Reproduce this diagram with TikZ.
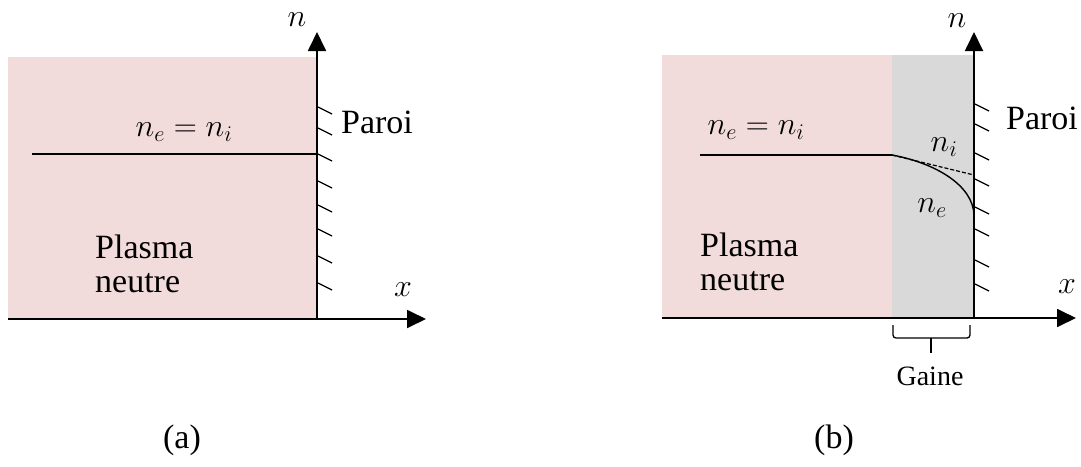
\documentclass[tikz,border=0pt]{standalone}
\usepackage{fix-cm}
\usepackage{fontspec}
\setmainfont{Liberation Serif}
\usetikzlibrary{arrows.meta}
\definecolor{plasma}{HTML}{F2DCDB}
\definecolor{gaine}{HTML}{D9D9D9}
\tikzset{
  axis/.style={line width=1.8pt,-{Triangle[length=19pt,width=18pt]}},
  hatch/.style={line width=1.2pt},
  level/.style={line width=1.5pt},
  lbl/.style={inner sep=0pt,font=\fontsize{34}{40}\selectfont},
  mth/.style={inner sep=0pt,font=\fontsize{32}{38}\selectfont},
  small/.style={inner sep=0pt,font=\fontsize{28}{34}\selectfont},
}
\begin{document}
\begin{tikzpicture}[x=1pt,y=-1pt]
\useasboundingbox (0,0) rectangle (1081,466);
% ---------- panel (a) ----------
\fill[plasma] (8,57) rectangle (317,319);
\coordinate (a0) at (317,319);
\coordinate (ax) at (426,319);
\coordinate (an) at (317,32);
\coordinate (aleft) at (8,319);
\draw[line width=1.8pt] (aleft) -- (a0);
\draw[axis] (a0) -- (ax);
\draw[axis] (a0) -- (an);
\foreach \y in {107,128,154,181,205,229,256,283}
  \draw[hatch] (318,\y) -- (332,\y+7);
\coordinate (al1) at (32,154);
\coordinate (al2) at (317,154);
\draw[level] (al1) -- (al2);
\node[mth] (an_lbl) at (297,20) {$n$};
\node[mth] (ax_lbl) at (403,290) {$x$};
\node[lbl] (aparoi) at (377,122) {Paroi};
\node[mth] (aeq) at (184,132) {$n_e = n_i$};
\node[lbl,anchor=west,align=left] (aplasma) at (95,264) {Plasma\\[-6pt]neutre};
\node[lbl] (acap) at (182,440) {(a)};
% ---------- panel (b) ----------
\fill[plasma] (662,55) rectangle (892,318);
\fill[gaine] (892,55) rectangle (974,318);
\coordinate (b0) at (974,318);
\coordinate (bx) at (1076,318);
\coordinate (bn) at (974,32);
\coordinate (bleft) at (662,318);
\draw[line width=1.8pt] (bleft) -- (b0);
\draw[axis] (b0) -- (bx);
\draw[axis] (b0) -- (bn);
\foreach \y in {104,124,153,179,207,229,260,284}
  \draw[hatch] (975,\y) -- (989,\y+7);
\coordinate (bl1) at (700,155);
\coordinate (bs) at (892,155);
\coordinate (bi) at (974,175);
\coordinate (be) at (974,215);
\draw[level] (bl1) -- (bs);
\draw[line width=1.2pt,dash pattern=on 4pt off 2pt] (bs) -- (bi);
\draw[line width=1.4pt] (bs) .. controls (935,163) and (973,185) .. (be);
\node[mth] (bn_lbl) at (957,21) {$n$};
\node[mth] (bx_lbl) at (1067,287) {$x$};
\node[lbl] (bparoi) at (1042,118) {Paroi};
\node[mth] (beq) at (756,130) {$n_e = n_i$};
\node[mth] (bni) at (944,147) {$n_i$};
\node[mth] (bne) at (932,208) {$n_e$};
\node[lbl,anchor=west,align=left] (bplasma) at (700,262) {Plasma\\[-6pt]neutre};
% brace
\coordinate (br1) at (893,325);
\coordinate (br2) at (970,325);
\draw[line width=1.3pt,rounded corners=3pt] (br1) -- (893,338) -- (970,338) -- (br2);
\coordinate (brm) at (931,338);
\coordinate (brs) at (931,353);
\draw[line width=1.3pt] (brm) -- (brs);
\node[small] (gaine_lbl) at (930,376) {Gaine};
\node[lbl] (bcap) at (834,440) {(b)};
\end{tikzpicture}
\end{document}
